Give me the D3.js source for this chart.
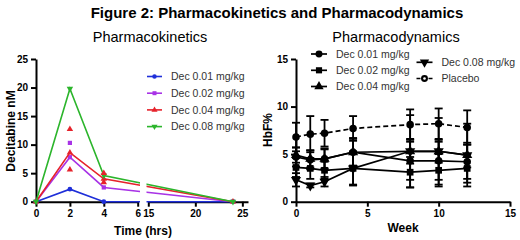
<!DOCTYPE html>
<html>
<head>
<meta charset="utf-8">
<script src="https://cdn.jsdelivr.net/npm/d3@7"></script>
<style>
  body { margin: 0; background: #fff; }
  text { font-family: "Liberation Sans", Arial, sans-serif; }
  .axis path, .axis line { stroke: #000; stroke-width: 2; }
  .axis text { font-weight: bold; font-size: 10px; fill: #000; }
</style>
</head>
<body>
<div id="chart"></div>
<script>
const width = 520, height = 240;

// Pharmacokinetics (hours vs decitabine nM)
const pkTimes = [0, 2, 4, 24];
const pk01 = [0, 2.2, 0, 0];
const pk02 = [0, 7.8, 2.5, 0];
const pk04 = [0, 8.6, 4.0, 0];
const pk08 = [0, 19.8, 4.6, 0];
const pkLabels = ["Dec 0.01 mg/kg", "Dec 0.02 mg/kg", "Dec 0.04 mg/kg", "Dec 0.08 mg/kg"];
const pkColors = ["#1f2fd9", "#a833e6", "#e6222b", "#2cb52c"];
// single points drawn off the mean lines
const pkSpreadT = [2, 2, 2, 4, 4];
const pkSpreadV = [12.7, 10.3, 5.6, 5.0, 3.4];
const pkSpreadS = [2, 1, 2, 2, 2];
const pkTicksA = [0, 2, 4, 6];
const pkTicksB = [15, 20, 25];
const pkTicksY = [0, 5, 10, 15, 20, 25];

// Pharmacodynamics (week vs HbF%)
const weeks = [0, 1, 2, 4, 8, 10, 12];
const pd01 = [4.7, 4.4, 4.5, 5.2, 4.3, 4.3, 4.2];
const pd02 = [3.6, 3.5, 3.3, 3.5, 3.1, 3.3, 3.5];
const pd04 = [4.9, 4.5, 4.5, 5.2, 5.3, 5.3, 4.9];
const pd08 = [2.3, 1.7, 2.1, 3.5, 5.3, 5.3, 4.9];
const pdPlacebo = [6.8, 7.1, 7.2, 7.7, 8.1, 8.2, 7.8];
const pd01Err = [1.0, 1.0, 1.1, 1.5, 2.0, 2.0, 1.8];
const pd02Err = [1.0, 1.1, 0.9, 1.7, 1.6, 1.7, 1.5];
const pd04Err = [0.8, 0.9, 1.0, 1.4, 1.3, 1.2, 1.3];
const pd08Err = [0.7, 0.2, 0.5, 1.8, 3.8, 3.5, 3.3];
const pdPlaceboErr = [1.5, 1.9, 1.4, 1.3, 1.6, 1.6, 1.8];
const pdLabels = ["Dec 0.01 mg/kg", "Dec 0.02 mg/kg", "Dec 0.04 mg/kg", "Dec 0.08 mg/kg", "Placebo"];
const pdTicksX = [0, 5, 10, 15];
const pdTicksY = [0, 5, 10, 15];

const symbols = [d3.symbolCircle, d3.symbolSquare, d3.symbolTriangle, d3.symbolTriangle, d3.symbolCircle];
const fmt = d3.format("d");

const svg = d3.select("#chart").append("svg")
  .attr("width", width).attr("height", height);

svg.append("text").attr("x", 277).attr("y", 18).attr("text-anchor", "middle")
  .style("font-weight", "bold").style("font-size", "15px")
  .text("Figure 2: Pharmacokinetics and Pharmacodynamics");
svg.append("text").attr("x", 150).attr("y", 42).attr("text-anchor", "middle")
  .style("font-size", "14.5px").text("Pharmacokinetics");
svg.append("text").attr("x", 396).attr("y", 42).attr("text-anchor", "middle")
  .style("font-size", "14.5px").text("Pharmacodynamics");

function symbolPath(i, size) {
  return d3.symbol().type(symbols[i]).size(size)();
}

// ---------- left chart ----------
const yL = d3.scaleLinear().domain([0, 25]).range([201.7, 59]);
const xA = d3.scaleLinear().domain([0, 6]).range([36, 137.7]);
const xB = d3.scaleLinear().domain([15, 25.6]).range([148.3, 248]);
const px = t => t <= 6 ? xA(t) : xB(t);

const left = svg.append("g");
left.append("g").attr("class", "axis").attr("transform", "translate(0,201.7)")
  .call(d3.axisBottom(xA).tickValues(pkTicksA).tickFormat(fmt).tickSize(5).tickSizeOuter(0));
left.append("g").attr("class", "axis").attr("transform", "translate(0,201.7)")
  .call(d3.axisBottom(xB).tickValues(pkTicksB).tickFormat(fmt).tickSize(5).tickSizeOuter(0));
left.append("g").attr("class", "axis").attr("transform", "translate(36,0)")
  .call(d3.axisLeft(yL).tickValues(pkTicksY).tickFormat(fmt).tickSize(5).tickSizeOuter(0));

left.append("text").attr("x", 143).attr("y", 235).attr("text-anchor", "middle")
  .style("font-weight", "bold").style("font-size", "12px").text("Time (hrs)");
left.append("text").attr("transform", "translate(15,131) rotate(-90)").attr("text-anchor", "middle")
  .style("font-weight", "bold").style("font-size", "12px").text("Decitabine nM");

// clip out the axis break
const clip = svg.append("defs").append("clipPath").attr("id", "brk");
clip.append("rect").attr("x", 0).attr("y", 0).attr("width", 140).attr("height", 240);
clip.append("rect").attr("x", 146.5).attr("y", 0).attr("width", 200).attr("height", 240);

const pkSeries = [pk01, pk02, pk04, pk08];
const pkSym = [0, 1, 2, 3];
const lineL = d3.line().x(d => px(d[0])).y(d => yL(d[1]));
const pkG = left.append("g");
pkSeries.forEach((vals, i) => {
  const pts = pkTimes.map((t, j) => [t, vals[j]]);
  pkG.append("path").attr("d", lineL(pts)).attr("fill", "none")
    .attr("stroke", pkColors[i]).attr("stroke-width", 1.6).attr("clip-path", "url(#brk)");
  pkG.selectAll(null).data(pts).join("path")
    .attr("d", symbolPath(pkSym[i], 18))
    .attr("transform", d => `translate(${px(d[0])},${yL(d[1])})${i === 3 ? " rotate(180)" : ""}`)
    .attr("fill", pkColors[i]);
});
pkG.selectAll(null).data(pkSpreadT.map((t, j) => [t, pkSpreadV[j], pkSpreadS[j]])).join("path")
  .attr("d", d => symbolPath(d[2], 18))
  .attr("transform", d => `translate(${px(d[0])},${yL(d[1])})`)
  .attr("fill", d => pkColors[d[2]]);

const legL = left.append("g");
pkLabels.forEach((lab, i) => {
  const y = 76.5 + i * 16.7;
  legL.append("line").attr("x1", 147).attr("x2", 162).attr("y1", y).attr("y2", y)
    .attr("stroke", pkColors[i]).attr("stroke-width", 1.6);
  legL.append("path").attr("d", symbolPath(pkSym[i], 16))
    .attr("transform", `translate(154.5,${y})${i === 3 ? " rotate(180)" : ""}`).attr("fill", pkColors[i]);
  legL.append("text").attr("x", 171).attr("y", y + 3.8)
    .style("font-size", "10.5px").attr("fill", "#333").text(lab);
});

// ---------- right chart ----------
const xR = d3.scaleLinear().domain([0, 15]).range([296, 510]);
const yR = d3.scaleLinear().domain([0, 15]).range([201.7, 59]);

const right = svg.append("g");
right.append("g").attr("class", "axis").attr("transform", "translate(0,201.7)")
  .call(d3.axisBottom(xR).tickValues(pdTicksX).tickFormat(fmt).tickSize(5).tickSizeOuter(0));
right.append("g").attr("class", "axis").attr("transform", "translate(296,0)")
  .call(d3.axisLeft(yR).tickValues(pdTicksY).tickFormat(fmt).tickSize(5).tickSizeOuter(0));
right.append("text").attr("x", 403).attr("y", 232).attr("text-anchor", "middle")
  .style("font-weight", "bold").style("font-size", "12px").text("Week");
right.append("text").attr("transform", "translate(272,130) rotate(-90)").attr("text-anchor", "middle")
  .style("font-weight", "bold").style("font-size", "12px").text("HbF%");

const pdSeries = [pd01, pd02, pd04, pd08, pdPlacebo];
const pdErr = [pd01Err, pd02Err, pd04Err, pd08Err, pdPlaceboErr];
const lineR = d3.line().x(d => xR(d[0])).y(d => yR(d[1]));
const pdG = right.append("g");
pdSeries.forEach((vals, i) => {
  const pts = weeks.map((w, j) => [w, vals[j], pdErr[i][j]]);
  const eb = pdG.append("g").attr("stroke", "#000").attr("stroke-width", 1.8);
  eb.selectAll(null).data(pts).join("line")
    .attr("x1", d => xR(d[0])).attr("x2", d => xR(d[0]))
    .attr("y1", d => yR(d[1] - d[2])).attr("y2", d => yR(d[1] + d[2]));
  eb.selectAll(null).data(pts.flatMap(d => [[d[0], d[1] - d[2]], [d[0], d[1] + d[2]]])).join("line")
    .attr("x1", d => xR(d[0]) - 4).attr("x2", d => xR(d[0]) + 4)
    .attr("y1", d => yR(d[1])).attr("y2", d => yR(d[1]));
  pdG.append("path").attr("d", lineR(pts)).attr("fill", "none").attr("stroke", "#000")
    .attr("stroke-width", 1.7).attr("stroke-dasharray", i === 4 ? "5,3" : null);
  pdG.selectAll(null).data(pts).join("path")
    .attr("d", symbolPath(i, 45))
    .attr("transform", d => `translate(${xR(d[0])},${yR(d[1])})${i === 3 ? " rotate(180)" : ""}`)
    .attr("fill", "#000");
});

const legR = right.append("g");
const legPos = [[319, 54], [319, 70.3], [319, 86.5], [424.5, 62.3], [424.5, 78.5]];
pdLabels.forEach((lab, i) => {
  const [cx, cy] = legPos[i];
  legR.append("line").attr("x1", cx - 8).attr("x2", cx + 8).attr("y1", cy).attr("y2", cy)
    .attr("stroke", "#000").attr("stroke-width", 1.7).attr("stroke-dasharray", i === 4 ? "4,2" : null);
  legR.append("path").attr("d", symbolPath(i, 38))
    .attr("transform", `translate(${cx},${cy})${i === 3 ? " rotate(180)" : ""}`).attr("fill", "#000");
  if (i === 4) legR.append("circle").attr("cx", cx).attr("cy", cy).attr("r", 1.3).attr("fill", "#fff");
  legR.append("text").attr("x", cx + 17).attr("y", cy + 3.8)
    .style("font-size", "10.5px").attr("fill", "#333").text(lab);
});
</script>
</body>
</html>
